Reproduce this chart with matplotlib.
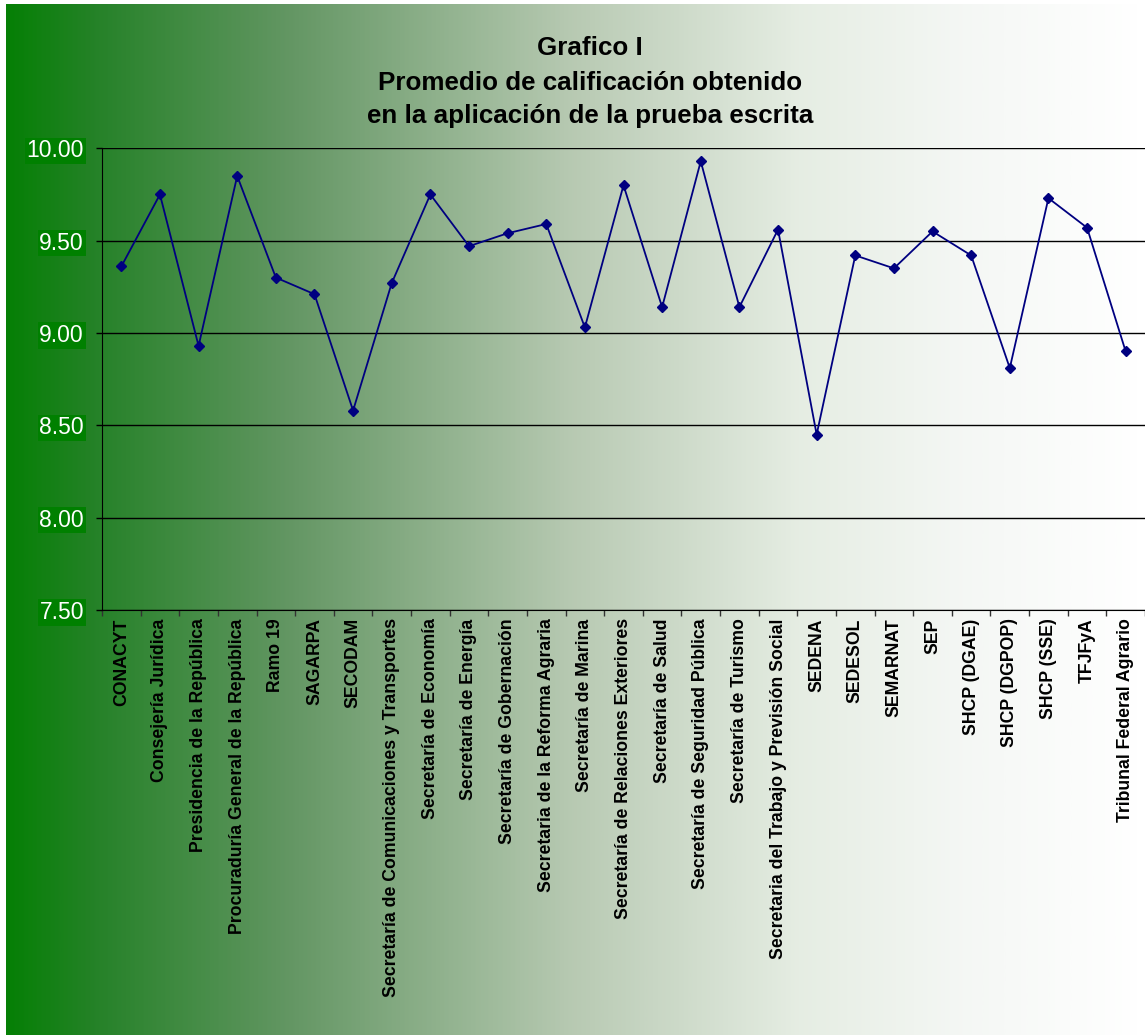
import numpy as np
import matplotlib
matplotlib.use("Agg")
import matplotlib.pyplot as plt
from matplotlib.colors import LinearSegmentedColormap

categories = [
    "CONACYT", "Consejería Jurídica", "Presidencia de la República",
    "Procuraduría General de la República", "Ramo 19", "SAGARPA", "SECODAM",
    "Secretaría de Comunicaciones y Transportes", "Secretaría de Economía",
    "Secretaría de Energía", "Secretaría de Gobernación",
    "Secretaria de la Reforma Agraria", "Secretaría de Marina",
    "Secretaría de Relaciones Exteriores", "Secretaría de Salud",
    "Secretaría de Seguridad Pública", "Secretaría de Turismo",
    "Secretaria del Trabajo y Previsión Social", "SEDENA", "SEDESOL",
    "SEMARNAT", "SEP", "SHCP (DGAE)", "SHCP (DGPOP)", "SHCP (SSE)", "TFJFyA",
    "Tribunal Federal Agrario",
]
scores = [
    9.36, 9.75, 8.93, 9.85, 9.30, 9.21, 8.58, 9.27, 9.75, 9.47, 9.54, 9.59,
    9.03, 9.80, 9.14, 9.93, 9.14, 9.56, 8.45, 9.42, 9.35, 9.55, 9.42, 8.81,
    9.73, 9.57, 8.90,
]
yticks = [7.50, 8.00, 8.50, 9.00, 9.50, 10.00]
title_lines = ["Grafico I", "Promedio de calificación obtenido",
               "en la aplicación de la prueba escrita"]

plt.rcParams['font.family'] = ['Liberation Sans', 'DejaVu Sans']

W, H = 1145, 1035
fig = plt.figure(figsize=(W / 100, H / 100), dpi=100)
fig.patch.set_facecolor('white')

# gradient background
bg = fig.add_axes([6 / W, 0, (1140 - 6) / W, 1 - 4 / H], zorder=0)
cmap = LinearSegmentedColormap.from_list("g", [
    (0.00, (0.02, 0.50, 0.02)),
    (0.08, (0.15, 0.51, 0.16)),
    (0.25, (0.39, 0.59, 0.39)),
    (0.50, (0.72, 0.79, 0.70)),
    (0.70, (0.90, 0.93, 0.89)),
    (0.85, (0.96, 0.97, 0.96)),
    (1.00, (1.0, 1.0, 1.0)),
])
grad = np.linspace(0, 1, 512).reshape(1, -1)
bg.imshow(grad, aspect='auto', cmap=cmap, extent=[0, 1, 0, 1])
bg.set_axis_off()

ax = fig.add_axes([102 / W, 1 - 610 / H, (1145 - 102) / W, (610 - 148.3) / H], zorder=1)
ax.set_facecolor('none')
x = np.arange(len(categories)) + 0.5
ax.plot(x, scores, color='#000080', lw=1.3, marker='D', markersize=5.4,
        markerfacecolor='#000080', markeredgecolor='#000080', clip_on=False)

ax.set_xlim(0, len(categories))
ax.set_ylim(7.5, 10.0)
ax.set_yticks(yticks)
ax.set_yticklabels([f"{v:.2f}" for v in yticks], color='white', fontsize=16.5)
for lab in ax.get_yticklabels():
    lab.set_bbox(dict(facecolor='#008000', edgecolor='none', pad=1.2))
ax.tick_params(axis='y', length=4, width=1, color='black', pad=9, direction='out')

ax.set_xticks(np.arange(len(categories) + 1))
ax.set_xticklabels([])
ax.set_xticks(x, minor=True)
ax.set_xticklabels(categories, minor=True, rotation=90, fontsize=12.7,
                   fontweight='bold', va='top', ha='center')
ax.tick_params(axis='x', which='major', length=4, width=1, color='#333333', direction='out')
ax.tick_params(axis='x', which='minor', length=0, pad=6)

ax.grid(axis='y', color='black', lw=1)
ax.set_axisbelow(True)
for s in ['top', 'right']:
    ax.spines[s].set_visible(False)
ax.spines['left'].set_color('black')
ax.spines['bottom'].set_color('black')

baselines = [55, 89.5, 123]
for t, yb in zip(title_lines, baselines):
    fig.text(590 / W, 1 - yb / H, t, ha='center', va='baseline',
             fontsize=18.7, fontweight='bold', color='black')

fig.savefig("out.png", dpi=100)
